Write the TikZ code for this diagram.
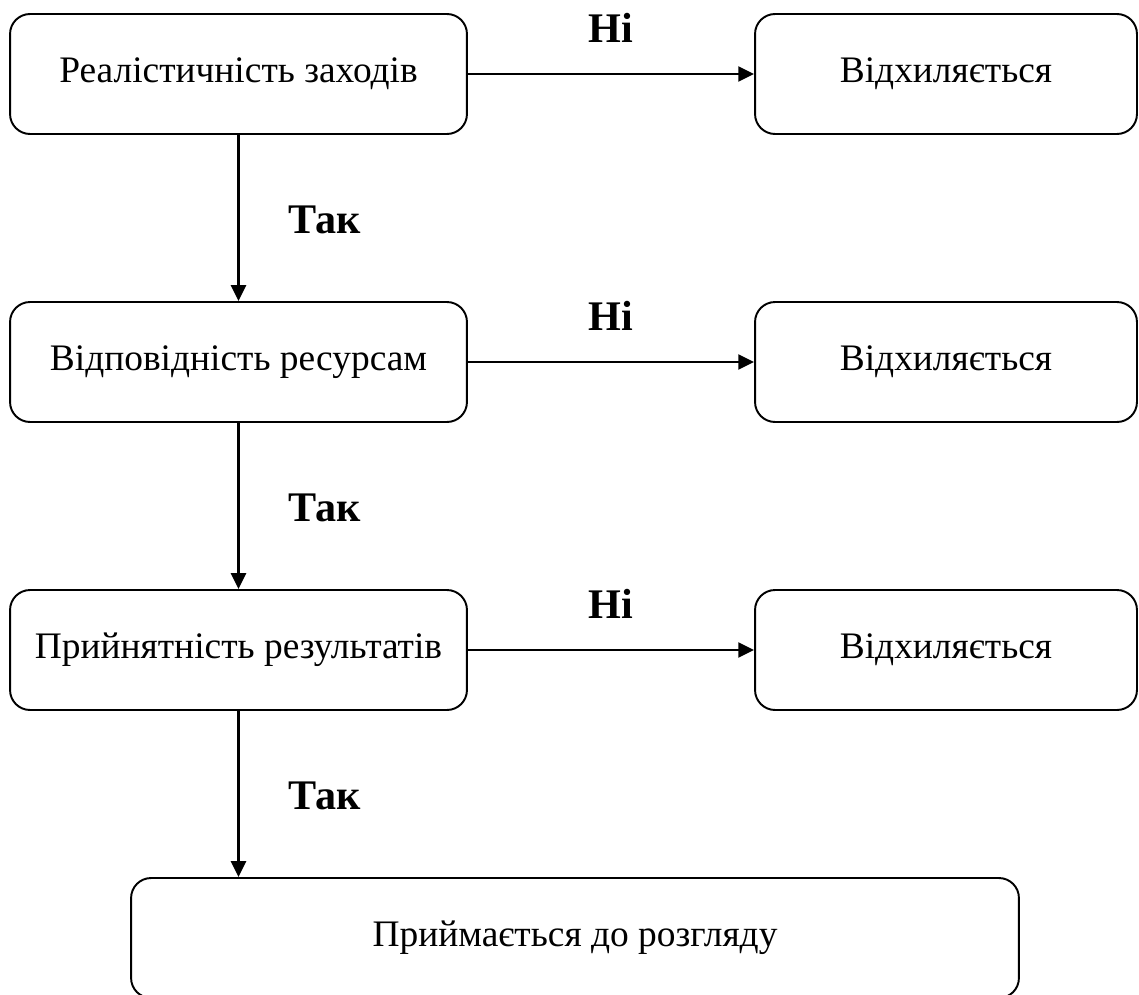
\documentclass[tikz,border=0pt]{standalone}
\usepackage{fontspec}
\setmainfont{Liberation Serif}
\usetikzlibrary{arrows.meta,positioning}

\begin{document}
\begin{tikzpicture}[
      x=0.02cm, y=-0.02cm,
      >={Triangle[length=9pt,width=8.5pt]},
      % rounded step boxes
      box/.style={rounded corners=0.4cm, draw=black, line width=1.1pt, fill=white, minimum height=2.4cm, inner sep=2pt, font=\fontsize{21.3}{25}\selectfont},
      lbl/.style={font=\fontsize{24}{28}\selectfont\bfseries},
      conn/.style={->, line width=1.4pt}
    ]
      \useasboundingbox (0,0) rectangle (1139,994);
      \node[box, minimum width=9.14cm] (real) at (238.5,74) {Реалістичність заходів};
      \node[box, minimum width=9.14cm] (res) at (238.5,362) {Відповідність ресурсам};
      \node[box, minimum width=9.14cm] (acc) at (238.5,650) {Прийнятність результатів};
      \node[box, minimum width=7.64cm] (rej1) at (946,74) {Відхиляється};
      \node[box, minimum width=7.64cm] (rej2) at (946,362) {Відхиляється};
      \node[box, minimum width=7.64cm] (rej3) at (946,650) {Відхиляється};
      \node[box, minimum width=17.76cm] (take) at (575,938) {Приймається до розгляду};
      % no branches
      \draw[conn] (real.east) -- (rej1.west);
      \draw[conn] (res.east) -- (rej2.west);
      \draw[conn] (acc.east) -- (rej3.west);
      \node[lbl] (no1) at (611,28) {Ні};
      \node[lbl] (no2) at (611,316) {Ні};
      \node[lbl] (no3) at (611,604) {Ні};
      % yes branches
      \draw[conn] (real.south) -- (res.north);
      \draw[conn] (res.south) -- (acc.north);
      \draw[conn] (acc.south) -- (acc.south |- take.north);
      \node[lbl] (yes1) at (325,220) {Так};
      \node[lbl] (yes2) at (325,508) {Так};
      \node[lbl] (yes3) at (325,796) {Так};
    \end{tikzpicture}
\end{document}
